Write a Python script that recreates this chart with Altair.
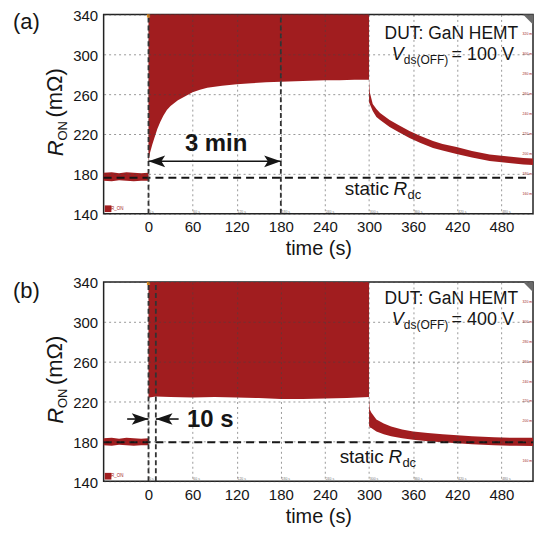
import altair as alt
import pandas as pd

FONT = "Liberation Sans"
RED = "#a11d1f"
INK = "#151515"

# ---------------- axes / scope frame ----------------
T_MIN, T_MAX = -61, 523
R_MIN, R_MAX = 140, 340
X_TICKS = [0, 60, 120, 180, 240, 300, 360, 420, 480]
Y_TICKS = [140, 180, 220, 260, 300, 340]
SCOPE_Y = [320, 300, 280, 260, 240, 220, 200, 180, 160]   # tiny scope labels (right edge)

# ---------------- panel (a): Vds(OFF) = 100 V ----------------
a_pre_t = [-61, -50, -40, -30, -20, -10, 0]
a_pre_hi = [181, 181.5, 180.5, 181.5, 181, 180.5, 181]
a_pre_lo = [173, 172.5, 173.5, 173, 172.5, 173, 173]
a_on_t = [0, 2, 5, 8, 12, 16, 20, 25, 30, 40, 50, 60, 70, 80, 100, 120, 140, 160, 180, 200, 220, 240, 260, 280, 300]
a_on_lo = [193, 201, 209, 216, 225, 232, 238, 244, 248, 254, 258, 262, 264.5, 266.5, 268.5, 270, 271, 272, 272.5,
           273, 273.5, 274, 274, 274.5, 274.5]
a_off_t = [300, 301, 305, 310, 315, 328, 340, 355, 370, 387, 400, 419, 440, 464, 490, 510, 523]
a_off_hi = [274.5, 262, 250, 245, 241, 234, 229, 223, 218, 213, 210, 207, 203, 199.5, 197.5, 196, 195.5]
a_off_lo = [252, 250, 243, 237, 234, 227, 222, 216, 211, 206, 203.5, 200, 196.5, 193, 191, 189.5, 188.8]
a_rdc = 176
a_rdc_end = 514
a_marks_t = [0, 180]          # dark dashed time markers
a_arrow = {"t1": [0], "t2": [180], "y": [192.6]}
a_head_right_t, a_head_left_t = [180], [0]
a_span_text = "3 min"
a_vds = "= 100 V"

# ---------------- panel (b): Vds(OFF) = 400 V ----------------
b_pre_t = [-61, -50, -40, -30, -20, -10, 0]
b_pre_hi = [183, 183.5, 182.5, 183.5, 183, 182.5, 183]
b_pre_lo = [176, 175.5, 176.5, 176, 175.5, 176, 176]
b_on_t = [0, 1, 10, 30, 60, 90, 120, 150, 180, 210, 240, 270, 300]
b_on_lo = [222, 224, 225, 224.5, 224, 224.5, 224, 223.5, 222.5, 222.5, 223, 223.5, 224.5]
b_off_t = [300, 301, 303, 310, 320, 330, 345, 360, 380, 400, 420, 440, 470, 500, 523]
b_off_hi = [224, 212, 209, 202, 198, 195, 192, 190, 188.5, 187, 186, 185, 184, 183.5, 183.5]
b_off_lo = [196, 194, 193.5, 190, 187, 185, 183, 181.5, 180, 179, 178, 177, 176, 175.5, 175.2]
b_rdc = 179
b_rdc_end = 523
b_marks_t = [0, 10]
b_arrow = {"t1": [-29, 10], "t2": [0, 41], "y": [202.4, 202.4]}
b_head_right_t, b_head_left_t = [0], [10]
b_span_text = "10 s"
b_vds = "= 400 V"

HEAD_RIGHT = "M0,0 L-2,-0.7 L-1.55,0 L-2,0.7 Z"
HEAD_LEFT = "M0,0 L2,-0.7 L1.55,0 L2,0.7 Z"
CORNER = "M0,0 L-2,0 L0,2 Z"

W, H = 431, 200


def panel(tag, pre_t, pre_hi, pre_lo, on_t, on_lo, off_t, off_hi, off_lo, rdc, rdc_end, marks_t,
          arrow, head_r, head_l, span_text, span_pos, vds, top_y, static_t):
    xs = alt.Scale(domain=[T_MIN, T_MAX], nice=False, zero=False)
    ys = alt.Scale(domain=[R_MIN, R_MAX], nice=False, zero=False)
    xax = alt.Axis(values=X_TICKS, title="time (s)", grid=True, gridDash=[2, 3], gridColor="#444",
                   gridOpacity=0.55, ticks=False, domain=False, labelFont=FONT, titleFont=FONT,
                   labelFontSize=15, titleFontSize=20, titleFontWeight="normal", labelColor=INK,
                   titleColor=INK, labelPadding=6, titlePadding=4, zindex=1)
    yax = alt.Axis(values=Y_TICKS, title=None, grid=True, gridDash=[2, 3], gridColor="#444",
                   gridOpacity=0.55, ticks=False, domain=False, labelFont=FONT, labelFontSize=15,
                   labelColor=INK, labelPadding=6, labelOffset=1, zindex=1)
    X = lambda f: alt.X(f, type="quantitative", scale=xs, axis=xax)
    Y = lambda f: alt.Y(f, type="quantitative", scale=ys, axis=yax)

    pre = pd.DataFrame({"t": pre_t, "hi": pre_hi, "lo": pre_lo})
    on = pd.DataFrame({"t": on_t, "hi": [R_MAX] * len(on_t), "lo": on_lo})
    off = pd.DataFrame({"t": off_t, "hi": off_hi, "lo": off_lo})

    layers = []
    for df in (pre, on, off):
        layers.append(alt.Chart(df).mark_area(color=RED, opacity=1, interpolate="linear").encode(
            x=X("t"), y=Y("hi"), y2="lo"))

    # static Rdc reference
    layers.append(alt.Chart(pd.DataFrame({"t1": [T_MIN], "t2": [rdc_end], "r": [rdc]})).mark_rule(
        color=INK, strokeWidth=2, strokeDash=[8, 5]).encode(x=X("t1"), x2="t2", y=Y("r")))
    # dark dashed time markers
    layers.append(alt.Chart(pd.DataFrame({"t": marks_t, "r1": [R_MIN] * len(marks_t),
                                          "r2": [R_MAX] * len(marks_t)})).mark_rule(
        color="#333", strokeWidth=1.8, strokeDash=[5, 3]).encode(x=X("t"), y=Y("r1"), y2="r2"))
    # arrows
    arr = pd.DataFrame(arrow)
    layers.append(alt.Chart(arr).mark_rule(color=INK, strokeWidth=1.6).encode(
        x=X("t1"), x2="t2", y=Y("y")))
    ay = arrow["y"][0]
    layers.append(alt.Chart(pd.DataFrame({"t": head_r, "y": [ay] * len(head_r)})).mark_point(
        shape=HEAD_RIGHT, size=280, filled=True, color=INK, opacity=1, strokeWidth=0).encode(
        x=X("t"), y=Y("y")))
    layers.append(alt.Chart(pd.DataFrame({"t": head_l, "y": [ay] * len(head_l)})).mark_point(
        shape=HEAD_LEFT, size=280, filled=True, color=INK, opacity=1, strokeWidth=0).encode(
        x=X("t"), y=Y("y")))

    def txt(items, **kw):
        df = pd.DataFrame(items)
        base = dict(font=FONT, color=INK, baseline="alphabetic")
        base.update(kw)
        return alt.Chart(df).mark_text(**base).encode(x=X("t"), y=Y("y"), text="s:N")

    # span label
    layers.append(txt({"t": [span_pos[0]], "y": [span_pos[1]], "s": [span_text]},
                      fontSize=24, fontWeight="bold", align=span_pos[2]))
    # DUT annotation
    layers.append(txt({"t": [412], "y": [top_y], "s": ["DUT: GaN HEMT"]}, fontSize=17.5, align="center"))
    layers.append(txt({"t": [331], "y": [top_y - 21.5], "s": ["V"]}, fontSize=18, fontStyle="italic",
                      align="left"))
    layers.append(txt({"t": [331], "y": [top_y - 21.5], "s": ["ds(OFF)"]}, fontSize=12, align="left",
                      dx=12, dy=4))
    layers.append(txt({"t": [331], "y": [top_y - 21.5], "s": [vds]}, fontSize=18, align="left", dx=60))
    # static R_dc
    layers.append(txt({"t": [static_t], "y": [158.3], "s": ["static"]}, fontSize=19, align="left"))
    layers.append(txt({"t": [static_t], "y": [158.3], "s": ["R"]}, fontSize=19, fontStyle="italic",
                      align="left", dx=49))
    layers.append(txt({"t": [static_t], "y": [158.3], "s": ["dc"]}, fontSize=13, align="left",
                      dx=63, dy=4))

    # tiny oscilloscope graticule labels
    layers.append(txt({"t": [v + 1 for v in X_TICKS], "y": [141.2] * len(X_TICKS),
                       "s": [f"{v} s" for v in X_TICKS]}, fontSize=3.5, color="#777", align="left"))
    layers.append(txt({"t": [T_MAX - 1] * len(SCOPE_Y), "y": [v - 1 for v in SCOPE_Y],
                       "s": [f"{v} m" for v in SCOPE_Y]}, fontSize=3.5, color=RED, align="right"))
    # scope channel badge, trigger marker, corner flag
    layers.append(alt.Chart(pd.DataFrame({"t": [-55], "y": [145]})).mark_point(
        shape="square", size=45, filled=True, color=RED, opacity=1).encode(x=X("t"), y=Y("y")))
    layers.append(txt({"t": [-51], "y": [144], "s": ["R_ON"]}, fontSize=4.5, color=RED, align="left"))
    layers.append(alt.Chart(pd.DataFrame({"t": [0], "y": [338.5]})).mark_point(
        shape="square", size=10, filled=True, color="#e08a1e", opacity=1).encode(x=X("t"), y=Y("y")))
    layers.append(alt.Chart(pd.DataFrame({"t": [T_MAX], "y": [R_MAX]})).mark_point(
        shape=CORNER, size=100, filled=True, color="#6a6a6a", opacity=1).encode(x=X("t"), y=Y("y")))

    # panel tag and y-axis title (R_ON (mΩ)) as rotated text pieces
    one = pd.DataFrame({"s": [tag]})
    layers.append(alt.Chart(one).mark_text(font=FONT, fontSize=22, color=INK, align="left",
                                           baseline="top").encode(
        x=alt.value(-91), y=alt.value(-2 if tag == "(a)" else -1), text="s:N"))
    for s, xv, yv, fs, sty in [("R", -40.5, 142.4, 22, "italic"), ("ON", -36.5, 126.6, 13, "normal"),
                               ("(mΩ)", -41.5, 103.4, 22, "normal")]:
        layers.append(alt.Chart(pd.DataFrame({"s": [s]})).mark_text(
            font=FONT, fontSize=fs, fontStyle=sty, color=INK, align="left", baseline="alphabetic",
            angle=270).encode(x=alt.value(xv), y=alt.value(yv), text="s:N"))

    return alt.layer(*layers).properties(width=W, height=H)


pa = panel("(a)", a_pre_t, a_pre_hi, a_pre_lo, a_on_t, a_on_lo, a_off_t, a_off_hi, a_off_lo, a_rdc,
           a_rdc_end, a_marks_t, a_arrow, a_head_right_t, a_head_left_t, a_span_text, (92, 202.5, "center"),
           a_vds, 315.5, 267)
pb = panel("(b)", b_pre_t, b_pre_hi, b_pre_lo, b_on_t, b_on_lo, b_off_t, b_off_hi, b_off_lo, b_rdc,
           b_rdc_end, b_marks_t, b_arrow, b_head_right_t, b_head_left_t, b_span_text, (52.5, 194.2, "left"),
           b_vds, 318, 260)

chart = alt.vconcat(pa, pb, spacing=68.5, bounds="flush").properties(
    padding={"left": 4, "top": -1.5, "right": 0, "bottom": 0}
).configure_view(stroke="#222", strokeWidth=1.5)

chart.save("out.html", embed_options={"renderer": "svg", "actions": False})
